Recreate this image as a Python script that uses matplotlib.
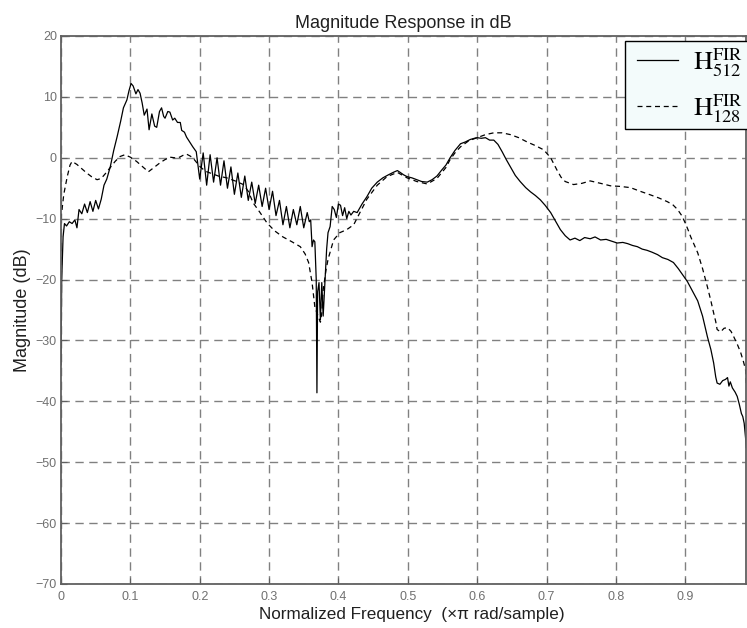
import matplotlib
matplotlib.use("Agg")
import matplotlib.pyplot as plt
from matplotlib.legend_handler import HandlerLine2D

plt.rcParams['font.family'] = ['Liberation Sans', 'DejaVu Sans']
plt.rcParams['mathtext.fontset'] = 'stix'

f512 = [0.000, 0.001, 0.003, 0.005, 0.008, 0.012, 0.016, 0.020, 0.023, 0.026, 0.030, 0.034, 0.038, 0.042,
        0.046, 0.050, 0.054, 0.058, 0.062, 0.066, 0.071, 0.076, 0.081, 0.086, 0.090, 0.095, 0.098, 0.101,
        0.104, 0.108, 0.111, 0.114, 0.117, 0.120, 0.124, 0.127, 0.131, 0.135, 0.138, 0.142, 0.145, 0.148,
        0.150, 0.154, 0.157, 0.161, 0.164, 0.168, 0.172, 0.174, 0.178, 0.181, 0.186, 0.190, 0.195,
        0.200, 0.205, 0.210, 0.215, 0.220, 0.225, 0.230, 0.235, 0.240, 0.245, 0.250, 0.255, 0.260, 0.265,
        0.270, 0.275, 0.280, 0.285, 0.290, 0.295, 0.300, 0.305, 0.310, 0.315, 0.320, 0.325, 0.330, 0.335,
        0.340, 0.345, 0.350, 0.355, 0.358,
        0.360, 0.362, 0.364, 0.366, 0.368, 0.369, 0.370, 0.372, 0.374, 0.376, 0.378, 0.381, 0.383, 0.385,
        0.388, 0.391, 0.394, 0.397, 0.400, 0.403, 0.406, 0.409, 0.412, 0.415, 0.418, 0.422, 0.427, 0.434,
        0.441, 0.448, 0.456, 0.464, 0.472, 0.479, 0.485, 0.489, 0.494, 0.499, 0.506, 0.513, 0.520, 0.528,
        0.535, 0.542, 0.549, 0.555, 0.561, 0.568, 0.576, 0.583, 0.590, 0.596, 0.600, 0.606, 0.612, 0.618,
        0.624, 0.630, 0.636, 0.642, 0.648, 0.655, 0.662, 0.670, 0.677, 0.684, 0.691, 0.698, 0.706, 0.713,
        0.720, 0.727, 0.734, 0.741, 0.748, 0.755, 0.763, 0.770, 0.778, 0.786, 0.794, 0.802, 0.810, 0.817,
        0.824, 0.831, 0.838, 0.845, 0.852, 0.860, 0.867, 0.875, 0.883, 0.890, 0.898, 0.903, 0.910, 0.918,
        0.925, 0.932, 0.937, 0.941, 0.944, 0.946, 0.950, 0.954, 0.958, 0.961, 0.963, 0.965, 0.968, 0.972,
        0.975, 0.978, 0.981, 0.983, 0.985, 0.987, 0.988]
h512 = [-34.0, -20.0, -13.0, -10.8, -11.2, -10.5, -10.8, -10.2, -11.5, -8.5, -9.2, -7.6, -9.0, -7.2,
        -8.8, -7.0, -8.4, -6.8, -4.5, -3.5, -1.5, 1.2, 3.5, 6.0, 8.2, 9.5, 11.0, 12.2,
        11.8, 10.5, 11.2, 10.6, 9.0, 7.0, 8.0, 4.6, 7.2, 5.2, 5.0, 7.6, 8.2, 6.8,
        6.5, 7.6, 7.5, 6.2, 6.5, 5.8, 5.8, 4.5, 4.2, 3.4, 2.5, 1.8, 1.0,
        -3.5, 0.8, -4.5, 0.5, -4.0, 0.0, -4.5, -0.5, -5.0, -1.5, -6.0, -2.5, -6.5, -3.0,
        -7.0, -4.0, -7.5, -4.5, -8.0, -5.0, -8.5, -5.5, -9.5, -7.0, -11.0, -8.0, -11.5, -8.5,
        -11.0, -8.0, -11.5, -9.0, -10.5,
        -10.2, -14.6, -13.5, -13.8, -20.0, -38.6, -22.0, -20.5, -26.6, -20.5, -26.0, -19.5, -15.0, -12.3,
        -11.3, -8.0, -8.5, -9.8, -7.6, -7.8, -9.5, -8.2, -10.0, -8.8, -9.4, -8.8, -9.0, -7.6,
        -6.4, -5.0, -4.0, -3.3, -2.8, -2.4, -2.1, -2.4, -2.8, -3.1, -3.3, -3.6, -3.9, -4.0,
        -3.6, -3.0, -2.0, -1.2, 0.0, 1.2, 2.3, 2.6, 3.0, 3.2, 3.3, 3.2, 3.3, 2.9,
        2.9, 2.2, 1.0, -0.3, -1.5, -2.9, -3.9, -4.9, -5.6, -6.2, -6.9, -7.8, -9.0, -10.4,
        -11.8, -12.8, -13.5, -13.2, -13.6, -13.1, -13.3, -13.0, -13.5, -13.4, -13.7, -14.0, -13.9, -14.1,
        -14.4, -14.6, -15.0, -15.2, -15.5, -15.9, -16.4, -16.7, -17.2, -18.2, -19.5, -20.3, -21.8, -23.5,
        -26.0, -29.4, -31.5, -33.7, -36.0, -37.0, -37.2, -36.6, -36.4, -36.1, -37.5, -36.8, -37.8, -38.5,
        -39.2, -40.5, -42.0, -42.5, -43.6, -46.0, -47.6]

f128 = [0.000, 0.004, 0.009, 0.013, 0.016, 0.023, 0.030, 0.037, 0.044, 0.052, 0.058, 0.064, 0.071, 0.078,
        0.085, 0.092, 0.100, 0.109, 0.118, 0.126, 0.134, 0.143, 0.150, 0.157, 0.164, 0.171, 0.176, 0.181,
        0.186, 0.190, 0.195, 0.200, 0.208, 0.215, 0.227, 0.239, 0.251, 0.263, 0.270, 0.277, 0.287, 0.297,
        0.308, 0.320, 0.333, 0.345, 0.352, 0.357, 0.362, 0.366, 0.370, 0.374, 0.376, 0.378, 0.382, 0.385,
        0.393, 0.402, 0.412, 0.422, 0.431, 0.441, 0.456, 0.470, 0.485, 0.499, 0.513, 0.528, 0.542, 0.555,
        0.561, 0.568, 0.576, 0.588, 0.600, 0.612, 0.624, 0.636, 0.648, 0.660, 0.672, 0.684, 0.696, 0.706,
        0.715, 0.721, 0.727, 0.739, 0.751, 0.763, 0.778, 0.792, 0.806, 0.821, 0.835, 0.850, 0.862, 0.874,
        0.882, 0.889, 0.895, 0.900, 0.904, 0.908, 0.913, 0.918, 0.925, 0.932, 0.937, 0.941, 0.944, 0.946,
        0.951, 0.956, 0.961, 0.966, 0.970, 0.975, 0.980, 0.984, 0.987, 0.988]
h128 = [-10.0, -6.0, -3.1, -1.2, -0.6, -1.1, -1.8, -2.5, -3.1, -3.6, -3.4, -2.6, -1.6, -0.6,
        0.2, 0.5, 0.1, -0.6, -1.5, -2.3, -1.6, -0.8, -0.3, 0.1, 0.0, 0.1, 0.4, 0.6,
        0.3, 0.0, -0.7, -1.4, -2.2, -2.5, -3.0, -3.3, -3.8, -4.4, -5.5, -7.4, -9.0, -10.7,
        -12.0, -13.0, -13.8, -14.6, -15.8, -17.2, -20.5, -24.5, -25.8, -27.0, -25.5, -21.7, -18.5, -16.7,
        -13.5, -12.3, -11.8, -11.0, -9.0, -6.8, -4.5, -3.1, -2.4, -3.3, -3.9, -4.3, -3.4, -1.6,
        -0.3, 0.8, 1.8, 2.8, 3.3, 3.8, 4.1, 4.1, 3.8, 3.3, 2.6, 2.0, 1.3, 0.0,
        -2.0, -3.2, -3.9, -4.4, -4.2, -3.8, -4.2, -4.6, -4.7, -4.9, -5.5, -6.1, -6.6, -7.2,
        -7.7, -8.5, -9.5, -10.7, -11.8, -13.0, -14.3, -15.6, -18.2, -21.2, -23.5, -25.5, -26.9, -28.2,
        -28.6, -28.0, -27.9, -28.5, -29.4, -30.6, -32.0, -33.5, -34.8, -37.0]

xticks = [0, 0.1, 0.2, 0.3, 0.4, 0.5, 0.6, 0.7, 0.8, 0.9]
xticklabels = ['0', '0.1', '0.2', '0.3', '0.4', '0.5', '0.6', '0.7', '0.8', '0.9']
yticks = [-70, -60, -50, -40, -30, -20, -10, 0, 10, 20]

fig = plt.figure(figsize=(7.47, 6.28), dpi=100)
ax = fig.add_axes([61/747, 1-584/628, 1-61/747-0.001, (584-36)/628])

ax.plot(f512, h512, color='black', lw=0.9, label=r'$\mathrm{H}_{512}^{\mathrm{FIR}}$')
ax.plot(f128, h128, color='black', lw=0.9, dashes=(4, 3), label=r'$\mathrm{H}_{128}^{\mathrm{FIR}}$')

ax.set_xlim(0, 0.988)
ax.set_ylim(-70, 20)
ax.set_xticks(xticks)
ax.set_xticklabels(xticklabels)
ax.set_yticks(yticks)
ax.grid(True, color='#808080', lw=1.0, dashes=(6, 4))
ax.tick_params(direction='in', length=4, colors='#606060', labelsize=9, labelcolor='#707070')
ax.tick_params(axis='x', pad=5)
ax.tick_params(axis='y', pad=3)
for s in ax.spines.values():
    s.set_color('#606060')
    s.set_linewidth(1.3)

ax.set_title('Magnitude Response in dB', fontsize=13, color='#202020', pad=6)
ax.set_xlabel('Normalized Frequency  (\u00d7\u03c0 rad/sample)', fontsize=12.3, color='#202020', labelpad=3)
ax.xaxis.label.set_x(0.512)
ax.set_ylabel('Magnitude (dB)', fontsize=13, color='#202020', labelpad=3)

leg = ax.legend(loc='upper right', fontsize=19, frameon=True, fancybox=False,
                handlelength=1.82, borderaxespad=0.0, labelspacing=0.5, handletextpad=0.6,
                borderpad=0.18, bbox_to_anchor=(1.003, 0.991),
                handler_map={matplotlib.lines.Line2D: HandlerLine2D(xpad=0.28)})
leg.get_frame().set_facecolor('#f3fbfb')
leg.get_frame().set_edgecolor('black')
leg.get_frame().set_linewidth(1.0)
leg.get_frame().set_alpha(1.0)

fig.savefig('out.png', dpi=100)
